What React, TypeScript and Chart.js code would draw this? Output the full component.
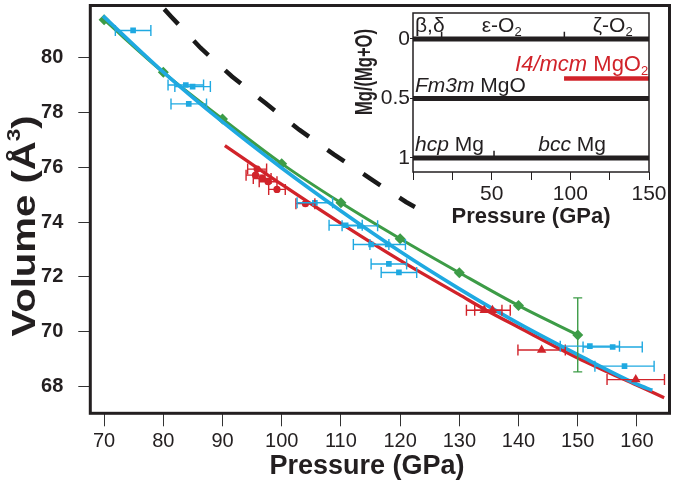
import React, { useEffect, useRef } from 'react';
import { Chart, registerables } from 'chart.js';

Chart.register(...registerables);

const FONT = '"Liberation Sans", Arial, Helvetica, sans-serif';
const INK = '#231f20';
const GREEN = '#3d9c47';
const BLUE = '#1fa9e1';
const RED = '#d1232a';

// ---------- main chart data ----------
const xTicks = [70, 80, 90, 100, 110, 120, 130, 140, 150, 160];
const yTicks = [68, 70, 72, 74, 76, 78, 80];

const greenP = [70, 80, 90, 100, 110, 120, 130, 140, 150];
const greenV = [81.38, 79.46, 77.76, 76.13, 74.7, 73.39, 72.15, 70.95, 69.88];
const greenErrV = [0, 0, 0, 0, 0, 0, 0, 0, 1.35];

const blueFitP = [69.8, 80, 90, 100, 110, 120, 130, 140, 150, 160, 162.6];
const blueFitV = [81.52, 79.47, 77.65, 75.97, 74.4, 72.92, 71.56, 70.3, 69.16, 68.08, 67.86];

const redFitP = [90.4, 100, 110, 120, 130, 134.4, 140, 150, 160, 164.6];
const redFitV = [76.79, 75.37, 73.95, 72.6, 71.35, 70.8, 70.16, 69.04, 68.04, 67.59];

const dashP = [79.6, 81.3, 86.3, 91.6, 97.3, 103.0, 108.8, 114.9, 121.0, 122.5];
const dashV = [81.9, 81.5, 80.35, 79.31, 78.33, 77.36, 76.47, 75.59, 74.73, 74.55];

const blueP = [74.9, 83.8, 84.95, 84.3, 105.6, 110.8, 113.2, 115.1, 117.9, 118.1, 119.8, 152.05, 155.9, 157.9];
const blueV = [80.99, 79.0, 78.94, 78.31, 74.7, 73.88, 73.86, 73.18, 73.18, 72.47, 72.16, 69.47, 69.44, 68.74];
const blueErrP = [3, 3, 3, 3, 3, 2.8, 3, 3, 3, 3, 3, 5, 5, 5];

const redCircP = [95.85, 95.58, 96.7, 97.7, 99.2, 104.0];
const redCircV = [75.93, 75.71, 75.59, 75.47, 75.19, 74.67];
const redCircErrP = [1.6, 1.6, 1.5, 1.5, 1.4, 1.6];

const redTriP = [134.2, 135.6, 143.9, 159.8];
const redTriV = [70.78, 70.78, 69.33, 68.25];
const redTriErrP = [3, 3, 4, 4.85];

// ---------- inset data ----------
const insetXTicks = [0, 25, 50, 75, 100, 125, 150];
const insetXLabels = [50, 100, 150];
const insetYTicks = [0, 0.5, 1];
const insetYLabels = ['0', '0.5', '1'];
const phaseLevels = [0, 0.5, 1];
const phaseStart = 0;
const phaseEnd = 150;
const mgo2Level = 1 / 3;
const mgo2Start = 96;
const boundaryP = [18.2, 96.2, 51.5];
const boundaryLevel = [0, 0, 1];

const pts = (xs: number[], ys: number[]) => xs.map((x, i) => ({ x, y: ys[i] }));

const noPad = (s: any) => { s.paddingTop = 0; s.paddingBottom = 0; s.paddingLeft = 0; s.paddingRight = 0; };

const errorBarPlugin = {
  id: 'errbars',
  afterDatasetsDraw(chart: any) {
    const ctx = chart.ctx;
    const xs = chart.scales.x;
    const ys = chart.scales.y;
    chart.data.datasets.forEach((ds: any, i: number) => {
      if (!ds.errX && !ds.errY) return;
      const meta = chart.getDatasetMeta(i);
      ctx.save();
      ctx.strokeStyle = ds.errColor;
      ctx.lineWidth = 1.4;
      meta.data.forEach((el: any, j: number) => {
        const p = ds.data[j];
        if (ds.errX && ds.errX[j]) {
          const x1 = xs.getPixelForValue(p.x - ds.errX[j]);
          const x2 = xs.getPixelForValue(p.x + ds.errX[j]);
          ctx.beginPath();
          ctx.moveTo(x1, el.y); ctx.lineTo(x2, el.y);
          ctx.moveTo(x1, el.y - 5.5); ctx.lineTo(x1, el.y + 5.5);
          ctx.moveTo(x2, el.y - 5.5); ctx.lineTo(x2, el.y + 5.5);
          ctx.stroke();
        }
        if (ds.errY && ds.errY[j]) {
          const y1 = ys.getPixelForValue(p.y - ds.errY[j]);
          const y2 = ys.getPixelForValue(p.y + ds.errY[j]);
          ctx.beginPath();
          ctx.moveTo(el.x, y1); ctx.lineTo(el.x, y2);
          ctx.moveTo(el.x - 4.5, y1); ctx.lineTo(el.x + 4.5, y1);
          ctx.moveTo(el.x - 4.5, y2); ctx.lineTo(el.x + 4.5, y2);
          ctx.stroke();
        }
      });
      ctx.restore();
    });
  },
};

const mainDecor = {
  id: 'mainDecor',
  afterDraw(chart: any) {
    const { ctx, chartArea: a } = chart;
    ctx.save();
    ctx.strokeStyle = INK;
    ctx.lineWidth = 3;
    ctx.strokeRect(a.left, a.top, a.right - a.left, a.bottom - a.top);
    ctx.fillStyle = INK;
    ctx.font = `bold 27px ${FONT}`;
    ctx.textAlign = 'center';
    ctx.textBaseline = 'alphabetic';
    ctx.fillText('Pressure (GPa)', 367, 473.5);
    // y title
    ctx.translate(35, 226);
    ctx.rotate(-Math.PI / 2);
    ctx.scale(1.18, 1);
    const f1 = `bold 34px ${FONT}`;
    const f2 = `bold 19px ${FONT}`;
    ctx.font = f1;
    const s1 = 'Volume (Å';
    const w1 = ctx.measureText(s1).width;
    const w3 = ctx.measureText(')').width;
    ctx.font = f2;
    const w2 = ctx.measureText('3').width;
    const total = w1 + w2 + w3;
    let x = -total / 2;
    ctx.textAlign = 'left';
    ctx.font = f1;
    ctx.fillText(s1, x, 0);
    x += w1;
    ctx.font = f2;
    ctx.fillText('3', x, -15);
    x += w2;
    ctx.font = f1;
    ctx.fillText(')', x, 0);
    ctx.restore();
  },
};

type Seg = { t: string; f: string; dy?: number };
function drawSegs(ctx: any, segs: Seg[], x: number, y: number, align: 'left' | 'right') {
  let total = 0;
  const ws = segs.map((s) => { ctx.font = s.f; const w = ctx.measureText(s.t).width; total += w; return w; });
  let cx = align === 'left' ? x : x - total;
  ctx.textAlign = 'left';
  segs.forEach((s, i) => { ctx.font = s.f; ctx.fillText(s.t, cx, y + (s.dy || 0)); cx += ws[i]; });
}

const insetDecor = {
  id: 'insetDecor',
  afterDraw(chart: any) {
    const { ctx, chartArea: a } = chart;
    const xs = chart.scales.x;
    const ys = chart.scales.y;
    ctx.save();
    ctx.strokeStyle = INK;
    ctx.lineWidth = 1.5;
    ctx.strokeRect(a.left, a.top, a.right - a.left, a.bottom - a.top);
    ctx.fillStyle = INK;
    ctx.textBaseline = 'alphabetic';
    const R = `21px ${FONT}`;
    const I = `italic 21px ${FONT}`;
    const S = `13px ${FONT}`;
    const X = (v: number) => xs.getPixelForValue(v);
    const Y = (v: number) => ys.getPixelForValue(v);
    drawSegs(ctx, [{ t: 'β,δ', f: R }], X(1.3), Y(-0.061), 'left');
    drawSegs(ctx, [{ t: 'ε-O', f: R }, { t: '2', f: S, dy: 4 }], X(43.7), Y(-0.061), 'left');
    drawSegs(ctx, [{ t: 'ζ-O', f: R }, { t: '2', f: S, dy: 4 }], X(114.3), Y(-0.061), 'left');
    drawSegs(ctx, [{ t: 'Fm3m', f: I }, { t: ' MgO', f: R }], X(1.3), Y(0.443), 'left');
    drawSegs(ctx, [{ t: 'hcp', f: I }, { t: ' Mg', f: R }], X(1.3), Y(0.939), 'left');
    drawSegs(ctx, [{ t: 'bcc', f: I }, { t: ' Mg', f: R }], X(79.6), Y(0.939), 'left');
    ctx.fillStyle = RED;
    drawSegs(ctx, [{ t: 'I4/mcm', f: `italic 22px ${FONT}` }, { t: ' MgO', f: `22px ${FONT}` }, { t: '2', f: S, dy: 4 }], X(149.5), Y(0.269), 'right');
    ctx.fillStyle = INK;
    ctx.font = `bold 22px ${FONT}`;
    ctx.textAlign = 'center';
    ctx.fillText('Pressure (GPa)', (a.left + a.right) / 2, 222.5);
    ctx.translate(42, 72);
    ctx.rotate(-Math.PI / 2);
    ctx.scale(0.72, 1);
    ctx.font = `bold 23px ${FONT}`;
    ctx.fillText('Mg/(Mg+O)', 0, 0);
    ctx.restore();
  },
};

export default function App() {
  const mainRef = useRef<HTMLCanvasElement>(null);
  const insetRef = useRef<HTMLCanvasElement>(null);

  useEffect(() => {
    const lineBase = { showLine: true, pointRadius: 0, borderCapStyle: 'butt', cubicInterpolationMode: 'monotone' };
    const main = new Chart(mainRef.current as HTMLCanvasElement, {
      type: 'line',
      data: {
        datasets: [
          { ...lineBase, data: pts(dashP, dashV), borderColor: '#1a1a1a', borderWidth: 4.5, borderDash: [20.5, 22.7], borderDashOffset: 38.25, cubicInterpolationMode: 'default', tension: 0, order: 7 } as any,
          { ...lineBase, data: pts(redFitP, redFitV), borderColor: RED, borderWidth: 3.3, order: 6 } as any,
          { ...lineBase, data: pts(greenP, greenV), borderColor: GREEN, borderWidth: 3, pointRadius: 5.5, pointStyle: 'rectRot', pointBackgroundColor: GREEN, pointBorderWidth: 0, errY: greenErrV, errColor: GREEN, order: 5 } as any,
          { ...lineBase, data: pts(blueFitP, blueFitV), borderColor: BLUE, borderWidth: 3.6, order: 4 } as any,
          { data: pts(redCircP, redCircV), showLine: false, pointRadius: 3.6, pointStyle: 'circle', pointBackgroundColor: RED, pointBorderWidth: 0, errX: redCircErrP, errColor: RED, order: 3 } as any,
          { data: pts(redTriP, redTriV), showLine: false, pointRadius: 5.5, pointStyle: 'triangle', pointBackgroundColor: RED, pointBorderWidth: 0, errX: redTriErrP, errColor: RED, order: 2 } as any,
          { data: pts(blueP, blueV), showLine: false, pointRadius: 4, pointStyle: 'rect', pointBackgroundColor: BLUE, pointBorderWidth: 0, errX: blueErrP, errColor: BLUE, order: 1 } as any,
        ],
      },
      options: {
        animation: false,
        responsive: false,
        events: [],
        layout: { padding: { left: 0, right: 1.5, top: 1.3, bottom: 0 } },
        plugins: { legend: { display: false }, tooltip: { enabled: false } },
        scales: {
          x: {
            type: 'linear', min: 67.67, max: 165.5,
            afterFit: (s: any) => { s.height = 68.7; noPad(s); },
            afterBuildTicks: (s: any) => { s.ticks = xTicks.map((v) => ({ value: v })); },
            grid: { drawOnChartArea: false, drawTicks: true, tickLength: 13, color: '#333', lineWidth: 1 },
            border: { display: false },
            ticks: { font: { family: FONT, size: 20 }, color: INK, padding: 3, maxRotation: 0, autoSkip: false },
          },
          y: {
            type: 'linear', min: 67.02, max: 81.9,
            afterFit: (s: any) => { s.width = 90.3; noPad(s); },
            afterBuildTicks: (s: any) => { s.ticks = yTicks.map((v) => ({ value: v })); },
            grid: { drawOnChartArea: false, drawTicks: true, tickLength: 12, color: '#333', lineWidth: 1 },
            border: { display: false },
            ticks: { font: { family: FONT, size: 20, weight: 'bold' }, color: INK, padding: 15, autoSkip: false },
          },
        },
      } as any,
      plugins: [errorBarPlugin, mainDecor],
    });

    const insetSets: any[] = phaseLevels.map((lv) => ({
      data: [{ x: phaseStart, y: lv }, { x: phaseEnd, y: lv }], borderColor: INK, borderWidth: 5, pointRadius: 0, borderCapStyle: 'butt',
    }));
    insetSets.push({ data: [{ x: mgo2Start, y: mgo2Level }, { x: phaseEnd, y: mgo2Level }], borderColor: RED, borderWidth: 4.5, pointRadius: 0, borderCapStyle: 'butt' });
    boundaryP.forEach((p, i) => {
      insetSets.push({ data: [{ x: p, y: boundaryLevel[i] - 0.06 }, { x: p, y: boundaryLevel[i] - 0.015 }], borderColor: INK, borderWidth: 1.5, pointRadius: 0 });
    });
    const inset = new Chart(insetRef.current as HTMLCanvasElement, {
      type: 'line',
      data: { datasets: insetSets },
      options: {
        animation: false,
        responsive: false,
        events: [],
        layout: { padding: { left: 0, right: 21, top: 13, bottom: 0 } },
        plugins: { legend: { display: false }, tooltip: { enabled: false } },
        scales: {
          x: {
            type: 'linear', min: 0, max: 150,
            afterFit: (s: any) => { s.height = 63; noPad(s); },
            afterBuildTicks: (s: any) => { s.ticks = insetXTicks.map((v) => ({ value: v })); },
            grid: { drawOnChartArea: false, drawTicks: true, tickLength: 8, color: INK, lineWidth: 1 },
            border: { display: false },
            ticks: {
              callback: (v: any) => (insetXLabels.includes(v) ? String(v) : ''),
              font: { family: FONT, size: 21 }, color: INK, padding: 2, maxRotation: 0, autoSkip: false,
            },
          },
          y: {
            type: 'linear', min: -0.218, max: 1.118, reverse: true,
            afterFit: (s: any) => { s.width = 83; noPad(s); },
            afterBuildTicks: (s: any) => { s.ticks = insetYTicks.map((v) => ({ value: v })); },
            grid: { drawOnChartArea: false, drawTicks: true, tickLength: 3, color: INK, lineWidth: 1 },
            border: { display: false },
            ticks: {
              callback: (v: any) => insetYLabels[insetYTicks.indexOf(v)] ?? '',
              font: { family: FONT, size: 21 }, color: INK, padding: 0, autoSkip: false,
            },
          },
        },
      } as any,
      plugins: [insetDecor],
    });

    return () => { main.destroy(); inset.destroy(); };
  }, []);

  return (
    <div style={{ position: 'absolute', left: 0, top: 0, width: 675, height: 482, background: '#fff' }}>
      <canvas ref={mainRef} width={675} height={482} style={{ position: 'absolute', left: 0, top: 0 }} />
      <canvas ref={insetRef} width={340} height={235} style={{ position: 'absolute', left: 330, top: 0 }} />
    </div>
  );
}
